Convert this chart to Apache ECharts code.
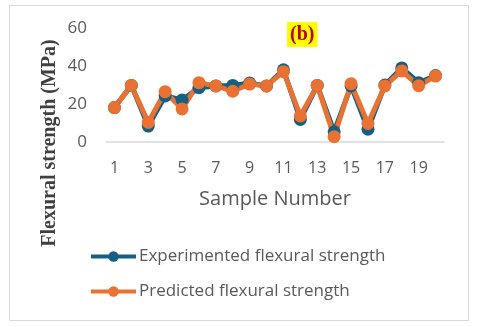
<!DOCTYPE html>
<html>
<head>
<meta charset="utf-8">
<script src="https://cdn.jsdelivr.net/npm/echarts@6/dist/echarts.min.js"></script>
<style>
  html, body { margin: 0; padding: 0; background: #fff; }
  #chart { width: 480px; height: 327px; }
</style>
</head>
<body>
<div id="chart"></div>
<script>
// sample numbers 1..20
var samples = ['1','2','3','4','5','6','7','8','9','10','11','12','13','14','15','16','17','18','19','20'];
var experimented = [18.1, 29.8, 8.4, 24.2, 22.1, 28.6, 29.5, 29.8, 31, 29.5, 38, 11.9, 29.8, 5.4, 29.5, 6.7, 30, 39, 31.2, 35];
var predicted    = [18.1, 29.8, 10.3, 26.5, 17.4, 31.2, 29.5, 26.7, 30.5, 29.5, 37, 13.7, 29.8, 2.8, 30.7, 9.8, 29.5, 37.4, 29.6, 34.7];
var yTicks = { min: 0, max: 60, interval: 20 };

var textGray = '#595959';
var sans = 'Open Sans';

var chart = echarts.init(document.getElementById('chart'));
var option = {
    animation: false,
    color: ['#156082', '#E97132'],
    graphic: [
        { // chart border
            type: 'rect',
            shape: { x: 9.5, y: 5.5, width: 459, height: 315 },
            style: { fill: 'none', stroke: '#d9d9d9', lineWidth: 1 },
            silent: true
        },
        { // panel label
            type: 'text',
            left: 287, top: 22,
            style: {
                text: '(b)',
                font: 'bold 20px "Liberation Serif"',
                fill: '#C00000',
                backgroundColor: '#FFFF00',
                padding: [3, 3, 2, 3]
            }
        },
        { // y axis title
            type: 'text',
            x: 50, y: 143,
            rotation: Math.PI / 2,
            style: {
                text: 'Flexural strength (MPa)',
                font: 'bold 20px "Liberation Serif"',
                fill: '#404040',
                align: 'center',
                verticalAlign: 'middle'
            }
        }
    ],
    grid: { left: 106, right: 36, top: 28, height: 114 },
    legend: {
        orient: 'vertical',
        left: 89,
        top: 248,
        padding: 0,
        itemWidth: 45,
        itemHeight: 13,
        itemGap: 18,
        lineStyle: { width: 4 },
        textStyle: { color: textGray, fontSize: 17, fontFamily: sans, padding: [0, 0, 0, -2] },
        data: ['Experimented flexural strength', 'Predicted flexural strength']
    },
    xAxis: {
        type: 'category',
        data: samples,
        boundaryGap: true,
        name: 'Sample Number',
        nameLocation: 'middle',
        nameGap: 47,
        nameTextStyle: { color: textGray, fontSize: 20, fontFamily: sans },
        axisLine: { lineStyle: { color: '#d9d9d9', width: 1.5 } },
        axisTick: { show: false },
        axisLabel: { interval: 1, color: textGray, fontSize: 16, fontFamily: sans, margin: 18 }
    },
    yAxis: {
        type: 'value',
        min: yTicks.min,
        max: yTicks.max,
        interval: yTicks.interval,
        axisLine: { show: false },
        axisTick: { show: false },
        splitLine: { show: false },
        axisLabel: { color: textGray, fontSize: 17, fontFamily: sans, margin: 19 }
    },
    series: [
        {
            name: 'Experimented flexural strength',
            type: 'line',
            data: experimented,
            symbol: 'circle',
            symbolSize: 13,
            showAllSymbol: true,
            lineStyle: { width: 5 }
        },
        {
            name: 'Predicted flexural strength',
            type: 'line',
            data: predicted,
            symbol: 'circle',
            symbolSize: 13,
            showAllSymbol: true,
            lineStyle: { width: 5 }
        }
    ]
};
chart.setOption(option, true);
</script>
</body>
</html>
